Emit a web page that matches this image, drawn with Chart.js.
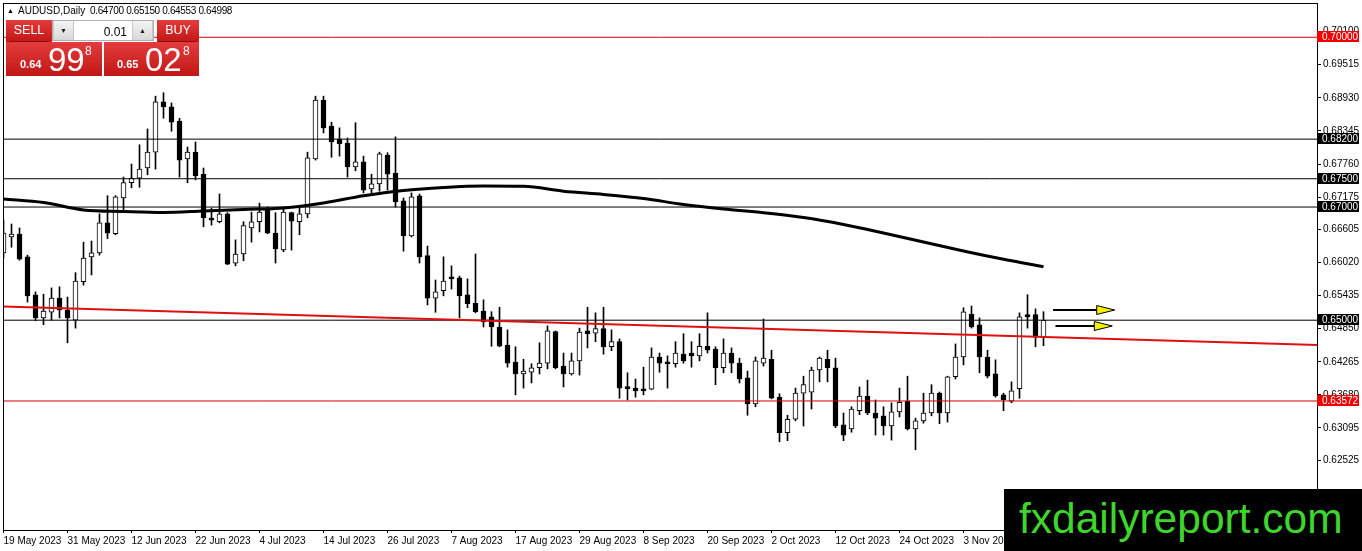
<!DOCTYPE html>
<html>
<head>
<meta charset="utf-8">
<title>AUDUSD, Daily</title>
<script src="https://cdn.jsdelivr.net/npm/chart.js@4.4.0/dist/chart.umd.min.js"></script>
<style>
  html, body { margin: 0; padding: 0; background: #fff; }
  #wrap { position: relative; width: 1362px; height: 551px; overflow: hidden; font-family: "Liberation Sans", Arial, sans-serif; }
  #chart { position: absolute; left: 0; top: 0; }
  .abs { position: absolute; white-space: pre; line-height: 1; }
  .red { background: linear-gradient(#e43c3c, #c01616); }
  .btnlbl { color: #fff; font-size: 12.5px; text-align: center; }
  .lotbtn { background: linear-gradient(#f4f4f4, #d8d8d8); border-left: 1px solid #c8c8c8; border-right: 1px solid #c8c8c8; color: #222; font-size: 7px; text-align: center; line-height: 19px; }
</style>
</head>
<body>
<div id="wrap">
  <canvas id="chart" width="1362" height="551"></canvas>

  <div class="abs" style="left:7px;top:7px;font-size:7px;">&#9650;</div>
  <div class="abs" style="left:18px;top:6px;font-size:10px;">AUDUSD,Daily</div>
  <div class="abs" style="left:90px;top:6px;font-size:10px;letter-spacing:-0.35px;">0.64700 0.65150 0.64553 0.64998</div>

  <div class="abs red btnlbl" style="left:6px;top:20px;width:46px;height:22px;line-height:20px;">SELL</div>
  <div class="abs" style="left:10px;top:41px;width:38px;height:1px;background:#8a0c0c;"></div>
  <div class="abs" style="left:52px;top:20px;width:100px;height:19px;background:#fff;border:1px solid #b0b0b0;"></div>
  <div class="abs lotbtn" style="left:53px;top:21px;width:19px;height:19px;">&#9660;</div>
  <div class="abs" style="left:90px;top:26px;width:37px;text-align:right;font-size:12px;color:#000;">0.01</div>
  <div class="abs lotbtn" style="left:132px;top:21px;width:19px;height:19px;">&#9650;</div>
  <div class="abs red btnlbl" style="left:157px;top:20px;width:42px;height:22px;line-height:20px;">BUY</div>
  <div class="abs" style="left:159px;top:41px;width:37px;height:1px;background:#8a0c0c;"></div>

  <div class="abs red" style="left:6px;top:42px;width:96px;height:34px;"></div>
  <div class="abs red" style="left:104px;top:42px;width:95px;height:34px;"></div>
  <div class="abs" style="left:20px;top:59px;font-size:11px;font-weight:bold;color:#fff;">0.64</div>
  <div class="abs" style="left:48px;top:43px;font-size:33px;color:#fff;">99</div>
  <div class="abs" style="left:85px;top:45px;font-size:12px;color:#fff;">8</div>
  <div class="abs" style="left:117px;top:59px;font-size:11px;font-weight:bold;color:#fff;">0.65</div>
  <div class="abs" style="left:145px;top:43px;font-size:33px;color:#fff;">02</div>
  <div class="abs" style="left:183px;top:45px;font-size:12px;color:#fff;">8</div>

  <div class="abs" style="left:1004px;top:489px;width:358px;height:62px;background:#000;"></div>
  <div class="abs" style="left:1019px;top:498px;font-size:42.5px;color:rgb(62,214,44);">fxdailyreport.com</div>
</div>

<script>
// daily candles, bar 0 = 19 May 2023
var opens = [
  0.6619,0.6647,0.6652,0.6612,0.6545,0.6504,0.6514,0.6539,0.6518,0.6500,
  0.6568,0.6612,0.6619,0.6672,0.6653,0.6716,0.6743,0.6751,0.6769,0.6797,
  0.6886,0.6877,0.6852,0.6785,0.6797,0.6758,0.6679,0.6674,0.6688,0.6601,
  0.6617,0.6663,0.6674,0.6698,0.6654,0.6624,0.6690,0.6674,0.6688,0.6785,
  0.6889,0.6843,0.6820,0.6813,0.6771,0.6780,0.6732,0.6741,0.6792,0.6760,
  0.6711,0.6649,0.6720,0.6614,0.6539,0.6552,0.6576,0.6575,0.6545,0.6530,
  0.6516,0.6506,0.6488,0.6456,0.6426,0.6405,0.6408,0.6416,0.6424,0.6480,
  0.6419,0.6405,0.6428,0.6481,0.6477,0.6485,0.6453,0.6462,0.6380,0.6380,
  0.6378,0.6378,0.6435,0.6426,0.6423,0.6440,0.6442,0.6437,0.6454,0.6449,
  0.6416,0.6442,0.6424,0.6398,0.6352,0.6424,0.6431,0.6364,0.6301,0.6325,
  0.6371,0.6373,0.6412,0.6431,0.6416,0.6315,0.6308,0.6340,0.6366,0.6336,
  0.6331,0.6313,0.6338,0.6357,0.6308,0.6322,0.6336,0.6371,0.6336,0.6400,
  0.6435,0.6511,0.6492,0.6435,0.6405,0.6368,0.6357,0.6379,0.6510,0.6510,0.6470
];
var highs = [
  0.6677,0.6670,0.6663,0.6615,0.6550,0.6546,0.6557,0.6559,0.6541,0.6584,
  0.6638,0.6640,0.6688,0.6720,0.6720,0.6753,0.6776,0.6810,0.6838,0.6896,
  0.6902,0.6884,0.6857,0.6806,0.6815,0.6769,0.6698,0.6723,0.6690,0.6642,
  0.6674,0.6691,0.6707,0.6700,0.6690,0.6700,0.6691,0.6698,0.6797,0.6896,
  0.6896,0.6850,0.6840,0.6822,0.6849,0.6790,0.6758,0.6797,0.6796,0.6824,
  0.6716,0.6725,0.6723,0.6631,0.6571,0.6612,0.6596,0.6578,0.6573,0.6617,
  0.6536,0.6515,0.6523,0.6483,0.6453,0.6431,0.6423,0.6460,0.6490,0.6481,
  0.6442,0.6442,0.6486,0.6523,0.6513,0.6523,0.6483,0.6467,0.6407,0.6396,
  0.6417,0.6451,0.6442,0.6437,0.6462,0.6476,0.6462,0.6476,0.6513,0.6453,
  0.6467,0.6451,0.6433,0.6410,0.6435,0.6502,0.6447,0.6370,0.6332,0.6380,
  0.6401,0.6417,0.6435,0.6447,0.6433,0.6336,0.6347,0.6382,0.6394,0.6359,
  0.6347,0.6354,0.6380,0.6401,0.6327,0.6371,0.6386,0.6373,0.6401,0.6458,
  0.6522,0.6525,0.6504,0.6447,0.6430,0.6371,0.6391,0.6513,0.6545,0.6520,0.6515
];
var lows = [
  0.6610,0.6629,0.6606,0.6532,0.6499,0.6492,0.6500,0.6504,0.6460,0.6486,
  0.6562,0.6580,0.6615,0.6644,0.6651,0.6695,0.6734,0.6735,0.6757,0.6767,
  0.6857,0.6834,0.6753,0.6743,0.6748,0.6665,0.6668,0.6672,0.6598,0.6596,
  0.6605,0.6638,0.6656,0.6653,0.6601,0.6621,0.6624,0.6651,0.6681,0.6783,
  0.6831,0.6788,0.6790,0.6753,0.6764,0.6725,0.6725,0.6728,0.6730,0.6700,
  0.6622,0.6647,0.6601,0.6527,0.6514,0.6543,0.6555,0.6504,0.6522,0.6513,
  0.6488,0.6454,0.6453,0.6417,0.6368,0.6380,0.6389,0.6405,0.6414,0.6414,
  0.6382,0.6403,0.6403,0.6451,0.6462,0.6440,0.6446,0.6362,0.6359,0.6364,
  0.6368,0.6377,0.6408,0.6380,0.6417,0.6424,0.6417,0.6428,0.6442,0.6386,
  0.6407,0.6407,0.6389,0.6332,0.6347,0.6419,0.6361,0.6285,0.6287,0.6322,
  0.6313,0.6343,0.6391,0.6391,0.6310,0.6287,0.6302,0.6333,0.6333,0.6297,
  0.6297,0.6288,0.6329,0.6306,0.6271,0.6318,0.6331,0.6317,0.6320,0.6396,
  0.6421,0.6486,0.6407,0.6398,0.6364,0.6340,0.6354,0.6362,0.6486,0.6453,0.6455
];
var closes = [
  0.6654,0.6652,0.6608,0.6543,0.6504,0.6516,0.6539,0.6518,0.6504,0.6569,
  0.6610,0.6619,0.6672,0.6654,0.6718,0.6743,0.6751,0.6767,0.6797,0.6886,
  0.6877,0.6850,0.6783,0.6797,0.6755,0.6681,0.6677,0.6688,0.6599,0.6617,
  0.6667,0.6674,0.6691,0.6654,0.6626,0.6691,0.6675,0.6688,0.6787,0.6889,
  0.6840,0.6815,0.6812,0.6771,0.6780,0.6730,0.6741,0.6794,0.6758,0.6709,
  0.6649,0.6718,0.6612,0.6539,0.6550,0.6569,0.6573,0.6543,0.6529,0.6515,
  0.6497,0.6488,0.6454,0.6424,0.6405,0.6410,0.6416,0.6424,0.6481,0.6416,
  0.6405,0.6428,0.6479,0.6476,0.6485,0.6453,0.6462,0.6380,0.6379,0.6375,
  0.6375,0.6435,0.6424,0.6423,0.6442,0.6428,0.6437,0.6454,0.6447,0.6416,
  0.6442,0.6424,0.6396,0.6352,0.6428,0.6433,0.6362,0.6301,0.6325,0.6371,
  0.6386,0.6412,0.6433,0.6416,0.6313,0.6297,0.6343,0.6366,0.6336,0.6327,
  0.6313,0.6338,0.6355,0.6308,0.6322,0.6336,0.6371,0.6336,0.6400,0.6435,
  0.6515,0.6488,0.6435,0.6401,0.6366,0.6359,0.6375,0.6506,0.6506,0.6470,0.6500
];

// moving average, read every 5 bars
var maBars = [0,5,10,15,20,25,30,35,40,45,50,55,60,65,70,75,80,85,90,95,100,105,110,115,120,125,130];
var maValues = [0.67142,0.67080,0.66948,0.66921,0.66904,0.66930,0.66957,0.66983,0.67072,0.67199,
  0.67292,0.67345,0.67372,0.67367,0.67280,0.67222,0.67151,0.67045,0.66965,0.66900,
  0.66815,0.66692,0.66541,0.66382,0.66223,0.66076,0.65946];

// trend line (red) end points
var trendBars = [-0.0625, 164.3125];
var trendPrices = [0.65242, 0.64562];

// horizontal levels
var levelPrices = [0.70000, 0.68200, 0.67500, 0.67000, 0.65000, 0.63572];
var levelIsRed = [true, false, false, false, false, true];

// two arrows to the right of the last bar
var arrowFrom = [131.2, 131.5];
var arrowTo = [138.9, 138.6];
var arrowPrices = [0.65180, 0.64903];

// axes
var dateTickBars = [0,8,16,24,32,40,48,56,64,72,80,88,96,104,112,120];
var dateTickLabels = ['19 May 2023','31 May 2023','12 Jun 2023','22 Jun 2023','4 Jul 2023','14 Jul 2023',
  '26 Jul 2023','7 Aug 2023','17 Aug 2023','29 Aug 2023','8 Sep 2023','20 Sep 2023','2 Oct 2023',
  '12 Oct 2023','24 Oct 2023','3 Nov 2023'];
var priceTicks = [0.70100,0.69515,0.68930,0.68345,0.67760,0.67175,0.66605,0.66020,0.65435,0.64850,0.64265,0.63680,0.63095,0.62525];

var xMin = -0.0625, xMax = 164.3125;
var yMin = 0.61292, yMax = 0.70606;

//build datasets
var wickData = [], bodyData = [], bodyColors = [];
opens.forEach(function(o, i){
  wickData.push({x: i, y: [lows[i], highs[i]]});
  bodyData.push({x: i, y: [Math.min(o, closes[i]), Math.max(o, closes[i])]});
  bodyColors.push(closes[i] >= o ? '#ffffff' : '#000000');
});
var maData = maBars.map(function(b, i){ return {x: b, y: maValues[i]}; });
var trendData = trendBars.map(function(b, i){ return {x: b, y: trendPrices[i]}; });

var datasets = [
  { type: 'bar', data: wickData, backgroundColor: '#000', barThickness: 1, grouped: false, order: 6 },
  { type: 'bar', data: bodyData, backgroundColor: bodyColors, borderColor: '#000', borderWidth: 1,
    borderSkipped: false, barThickness: 5, minBarLength: 2, grouped: false, order: 5 }
];
levelPrices.forEach(function(p, i){
  datasets.push({ type: 'line', data: [{x: xMin, y: p}, {x: xMax, y: p}],
    borderColor: levelIsRed[i] ? '#d80000' : '#000', borderWidth: 1, pointRadius: 0, order: 4 });
});
datasets.push({ type: 'line', data: trendData, borderColor: '#e01010', borderWidth: 2, pointRadius: 0, order: 3 });
datasets.push({ type: 'line', data: maData, borderColor: '#000', borderWidth: 3, pointRadius: 0,
  cubicInterpolationMode: 'monotone', order: 2 });

var extras = {
  id: 'extras',
  afterDatasetsDraw: function(chart){
    var ctx = chart.ctx, x = chart.scales.x, y = chart.scales.y;
    ctx.save();
    arrowFrom.forEach(function(b, i){
      var xs = x.getPixelForValue(b), xe = x.getPixelForValue(arrowTo[i]);
      var py = Math.round(y.getPixelForValue(arrowPrices[i]));
      var head = 18;
      ctx.strokeStyle = '#000';
      ctx.lineWidth = 2;
      ctx.beginPath(); ctx.moveTo(xs, py); ctx.lineTo(xe - head, py); ctx.stroke();
      ctx.beginPath();
      ctx.moveTo(xe - head, py - 4.5); ctx.lineTo(xe, py); ctx.lineTo(xe - head, py + 4.5); ctx.closePath();
      ctx.fillStyle = '#f0f000'; ctx.fill();
      ctx.lineWidth = 1; ctx.stroke();
    });
    ctx.restore();
  },
  afterDraw: function(chart){
    var ctx = chart.ctx, a = chart.chartArea, y = chart.scales.y;
    ctx.save();
    ctx.strokeStyle = '#000';
    ctx.lineWidth = 1;
    ctx.strokeRect(a.left + 0.5, a.top + 0.5, a.right - a.left - 1, a.bottom - a.top);
    ctx.font = '10px "Liberation Sans"';
    ctx.textBaseline = 'middle';
    levelPrices.forEach(function(p, i){
      var py = Math.round(y.getPixelForValue(p));
      ctx.fillStyle = levelIsRed[i] ? '#f00000' : '#000';
      ctx.fillRect(a.right - 1, py - 6, 42, 11);
      ctx.fillStyle = '#fff';
      ctx.fillText(p.toFixed(5), a.right + 4, py);
    });
    ctx.restore();
  }
};

Chart.defaults.font.family = '"Liberation Sans", Arial, sans-serif';
Chart.defaults.color = '#000';

var chart = new Chart(document.getElementById('chart').getContext('2d'), {
  type: 'bar',
  data: { datasets: datasets },
  options: {
    responsive: false,
    animation: false,
    devicePixelRatio: 1,
    layout: { padding: { left: 3, top: 3, right: 0, bottom: 0 } },
    plugins: { legend: { display: false }, tooltip: { enabled: false } },
    scales: {
      x: {
        type: 'linear', min: xMin, max: xMax, offset: false,
        grid: { display: true, offset: false, drawOnChartArea: false, drawTicks: true, tickLength: 3, color: '#000' },
        border: { display: false },
        afterBuildTicks: function(s){ s.ticks = dateTickBars.map(function(v){ return {value: v}; }); },
        afterFit: function(s){ s.height = 21; s.paddingLeft = 0; s.paddingRight = 0; },
        ticks: {
          autoSkip: false, maxRotation: 0, align: 'start', padding: 2, color: '#000',
          font: { size: 10 },
          callback: function(v){ return dateTickLabels[dateTickBars.indexOf(v)]; }
        }
      },
      y: {
        position: 'right', min: yMin, max: yMax,
        grid: { display: true, drawOnChartArea: false, drawTicks: true, tickLength: 3, color: '#000' },
        border: { display: false },
        afterBuildTicks: function(s){ s.ticks = priceTicks.map(function(v){ return {value: v}; }); },
        afterFit: function(s){ s.width = 44; s.paddingTop = 0; s.paddingBottom = 0; },
        ticks: {
          autoSkip: false, padding: 2, color: '#000',
          font: { size: 10 },
          callback: function(v){ return v.toFixed(5); }
        }
      }
    }
  },
  plugins: [extras]
});
</script>
</body>
</html>
